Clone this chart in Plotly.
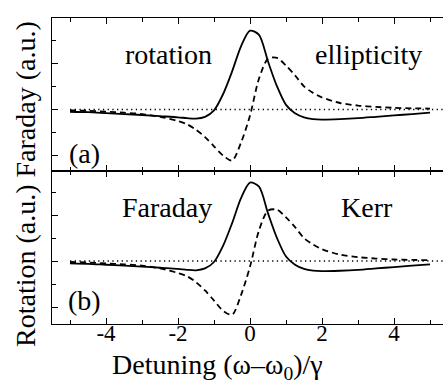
import plotly.graph_objects as go

# ---- data ----
detuning = [-5, -4.5, -4, -3.5, -3, -2.5, -2, -1.75, -1.5, -1.25, -1, -0.75, -0.5,
            -0.25, 0, 0.25, 0.5, 0.75, 1, 1.25, 1.5, 1.75, 2, 2.5, 3, 3.5, 4, 4.5, 5]

rotation_a = [-0.05, -0.06, -0.08, -0.10, -0.12, -0.145, -0.17, -0.19, -0.20, -0.16, -0.02,
              0.33, 0.82, 1.37, 1.71, 1.62, 1.04, 0.50, 0.10, -0.08, -0.17, -0.21, -0.22,
              -0.21, -0.19, -0.16, -0.13, -0.10, -0.07]
ellipticity_a = [-0.02, -0.03, -0.05, -0.07, -0.10, -0.16, -0.25, -0.32, -0.44, -0.60, -0.80,
                 -1.00, -1.11, -0.72, -0.13, 0.67, 1.10, 1.12, 0.95, 0.74, 0.50, 0.36, 0.26,
                 0.14, 0.085, 0.055, 0.035, 0.025, 0.02]

rotation_b = [-0.05, -0.06, -0.08, -0.10, -0.12, -0.145, -0.17, -0.19, -0.20, -0.16, -0.02,
              0.33, 0.82, 1.37, 1.71, 1.62, 1.04, 0.50, 0.10, -0.08, -0.17, -0.21, -0.22,
              -0.21, -0.19, -0.16, -0.13, -0.10, -0.07]
ellipticity_b = [-0.02, -0.03, -0.05, -0.07, -0.10, -0.16, -0.26, -0.33, -0.46, -0.64, -0.86,
                 -1.08, -1.17, -0.74, -0.12, 0.67, 1.10, 1.12, 0.95, 0.74, 0.50, 0.36, 0.26,
                 0.14, 0.085, 0.055, 0.035, 0.025, 0.02]

zero_x = [-5, 5.5]
zero_y = [0, 0]

x_major = [-4, -2, 0, 2, 4]
x_major_text = ["-4", "-2", "0", "2", "4"]
x_minor = [-5, -3, -1, 1, 3, 5]
y_major = [-1, 0, 1]
y_minor = [-0.5, 0.5, 1.5]

labels_top = ["rotation", "ellipticity"]
labels_bottom = ["Faraday", "Kerr"]

# ---- figure ----
W, H = 443, 388
L, R, T, B = 52, 0, 18, 64
FONT = "Liberation Serif, Times New Roman, DejaVu Serif, serif"

def px(xp):
    return (xp - L) / (W - L - R)

def py(yp):
    return (H - B - yp) / (H - T - B)

fig = go.Figure()
line_solid = dict(color="black", width=1.8, shape="spline", smoothing=0.8)
line_dash = dict(color="black", width=1.8, dash="6px,4px", shape="spline", smoothing=0.8)
line_dot = dict(color="black", width=1.5, dash="1.3px,3.4px")

for xa, ya, rot, ell in (("x2", "y", rotation_a, ellipticity_a),
                         ("x", "y2", rotation_b, ellipticity_b)):
    fig.add_trace(go.Scatter(x=zero_x, y=zero_y, mode="lines", line=line_dot,
                             xaxis=xa, yaxis=ya, hoverinfo="skip"))
    fig.add_trace(go.Scatter(x=detuning, y=ell, mode="lines", line=line_dash,
                             xaxis=xa, yaxis=ya))
    fig.add_trace(go.Scatter(x=detuning, y=rot, mode="lines", line=line_solid,
                             xaxis=xa, yaxis=ya))

xcommon = dict(range=[-5.5, 5.36], showgrid=False, zeroline=False, showline=True,
               linecolor="black", linewidth=1.4, mirror="ticks", ticks="inside",
               ticklen=6, tickwidth=1.3, tickcolor="black",
               tickmode="array", tickvals=x_major, ticktext=x_major_text,
               minor=dict(tickmode="array", tickvals=x_minor, ticks="inside",
                          ticklen=3.5, tickwidth=1.3, tickcolor="black"))
ycommon = dict(showgrid=False, zeroline=False, showline=True, linecolor="black",
               linewidth=1.4, mirror=False, ticks="inside", ticklen=6, tickwidth=1.3,
               tickcolor="black", tickmode="array", tickvals=y_major,
               showticklabels=False,
               minor=dict(tickmode="array", tickvals=y_minor, ticks="inside",
                          ticklen=3.5, tickwidth=1.3, tickcolor="black"))

fig.update_layout(
    width=W, height=H, margin=dict(l=L, r=R, t=T, b=B),
    paper_bgcolor="white", plot_bgcolor="white", showlegend=False,
    font=dict(family=FONT, color="black", size=23),
    xaxis=dict(**xcommon, anchor="y2", showticklabels=True, ticklabelstandoff=-12,
               tickfont=dict(family=FONT, size=23)),
    xaxis2=dict(**xcommon, anchor="y", matches="x", showticklabels=False),
    yaxis=dict(**ycommon, domain=[0.5, 1.0], range=[-1.336, 1.985], anchor="x2"),
    yaxis2=dict(**ycommon, domain=[0.0, 0.5], range=[-1.37, 1.962], anchor="x"),
)

ann = [
    dict(text=labels_top[0], x=px(168), y=py(54)),
    dict(text=labels_top[1], x=px(368), y=py(54)),
    dict(text=labels_bottom[0], x=px(167), y=py(207)),
    dict(text=labels_bottom[1], x=px(367), y=py(207)),
    dict(text="(a)", x=px(84), y=py(153)),
    dict(text="(b)", x=px(84), y=py(300)),
    dict(text="Detuning (\u03c9\u2013\u03c9<sub>0</sub>)/\u03b3", x=px(217), y=py(366)),
    dict(text="Rotation (a.u.) Faraday (a.u.)", x=px(25), y=py(184), textangle=-90),
]
for a in ann:
    fig.add_annotation(xref="paper", yref="paper", showarrow=False,
                       xanchor="center", yanchor="middle",
                       font=dict(family=FONT, size=28, color="black"), **a)

fig.write_html("out.html")
